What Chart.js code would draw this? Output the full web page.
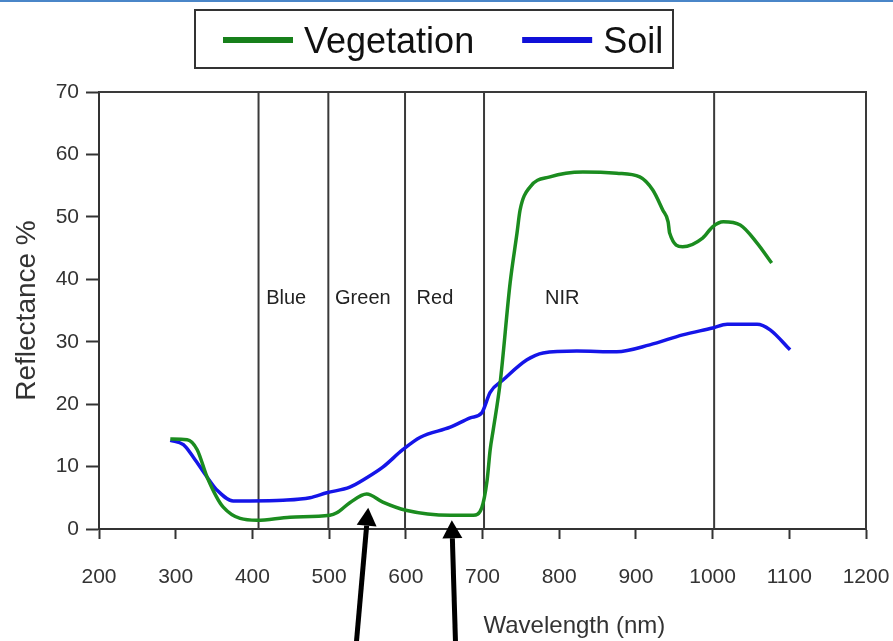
<!DOCTYPE html>
<html>
<head>
<meta charset="utf-8">
<title>Spectral reflectance</title>
<script src="https://cdn.jsdelivr.net/npm/chart.js@4.4.0/dist/chart.umd.min.js"></script>
<style>
  html, body { margin: 0; padding: 0; background: #fff; }
  #wrap { position: relative; width: 893px; height: 641px; }
  #topline { position: absolute; left: 0; top: 0; width: 893px; height: 2px; background: #4a86c8; }
</style>
</head>
<body>
<div id="wrap">
  <canvas id="spectra" width="893" height="641"></canvas>
  <div id="topline"></div>
</div>
<script>
// Vegetation curve: wavelength (nm) / reflectance (%)
const vegWavelength = [293, 315, 328, 341, 362, 406, 449, 501, 510, 527, 549, 570, 600, 658, 688, 699, 706, 710, 714, 723, 736, 745, 749, 762, 788, 831, 875, 905, 922, 935, 942, 944, 961, 987, 1000, 1014, 1036, 1058, 1077];
const vegReflectance = [14.4, 14.3, 12.7, 8.3, 3.5, 1.4, 1.9, 2.2, 2.6, 4.2, 5.6, 4.3, 3.0, 2.2, 2.2, 3.4, 7.8, 12.7, 15.9, 23.4, 39.4, 47.4, 51.1, 54.8, 56.4, 57.2, 57.0, 56.4, 54.3, 51.1, 49.2, 47.4, 45.2, 46.6, 48.4, 49.2, 48.7, 45.8, 42.6];

// Soil curve
const soilWavelength = [293, 310, 323, 341, 354, 375, 397, 440, 475, 497, 527, 549, 570, 596, 619, 658, 684, 699, 710, 727, 758, 779, 823, 875, 918, 961, 1000, 1019, 1058, 1075, 1101];
const soilReflectance = [14.2, 13.5, 11.5, 8.3, 6.2, 4.5, 4.5, 4.6, 5.0, 5.8, 6.7, 8.2, 9.9, 12.7, 14.7, 16.3, 17.8, 18.6, 21.9, 23.9, 27.1, 28.2, 28.5, 28.4, 29.5, 31.1, 32.2, 32.8, 32.8, 31.9, 28.7];

// Spectral band boundaries and names
const bandEdges = [408, 499, 599, 702, 1002];
const bandNames = ["Blue", "Green", "Red", "NIR"];
const bandLabelX = [444, 544, 638, 804];
const bandLabelY = 37;

// Arrows pointing at the green peak and the red absorption
const arrowTipX = [551, 660];
const arrowTipY = [3.4, 1.4];
const arrowTailX = [535, 665];
const arrowTailY = [-19, -19];

const xTicks = [200, 300, 400, 500, 600, 700, 800, 900, 1000, 1100, 1200];
const yTicks = [0, 10, 20, 30, 40, 50, 60, 70];

const FONT = "'Liberation Sans', Arial, sans-serif";
const INK = "#333";

const toPoints = (xs, ys) => xs.map((x, i) => ({ x, y: ys[i] }));

function drawArrow(ctx, x0, y0, x1, y1) {
  const ang = Math.atan2(y1 - y0, x1 - x0);
  const head = 18;
  const half = 10;
  const bx = x1 - head * Math.cos(ang);
  const by = y1 - head * Math.sin(ang);
  ctx.beginPath();
  ctx.moveTo(x0, y0);
  ctx.lineTo(bx, by);
  ctx.stroke();
  ctx.beginPath();
  ctx.moveTo(x1, y1);
  ctx.lineTo(bx + half * Math.sin(ang), by - half * Math.cos(ang));
  ctx.lineTo(bx - half * Math.sin(ang), by + half * Math.cos(ang));
  ctx.closePath();
  ctx.fill();
}

const decorPlugin = {
  id: "decor",
  beforeDatasetsDraw(chart) {
    const { ctx, chartArea: a, scales } = chart;
    ctx.save();
    ctx.strokeStyle = "#3a3a3a";
    ctx.lineWidth = 2;
    bandEdges.forEach((nm) => {
      const x = scales.x.getPixelForValue(nm);
      ctx.beginPath();
      ctx.moveTo(x, a.top);
      ctx.lineTo(x, a.bottom);
      ctx.stroke();
    });
    // top + right frame
    ctx.beginPath();
    ctx.moveTo(a.left, a.top);
    ctx.lineTo(a.right, a.top);
    ctx.lineTo(a.right, a.bottom);
    ctx.stroke();

    ctx.fillStyle = "#222";
    ctx.font = "20px " + FONT;
    ctx.textAlign = "center";
    ctx.textBaseline = "middle";
    bandNames.forEach((name, i) => {
      ctx.fillText(name, scales.x.getPixelForValue(bandLabelX[i]), scales.y.getPixelForValue(bandLabelY));
    });
    ctx.restore();
  },
  afterDraw(chart) {
    const { ctx, chartArea: a, scales } = chart;
    ctx.save();

    // arrows
    ctx.strokeStyle = "#000";
    ctx.fillStyle = "#000";
    ctx.lineWidth = 5;
    arrowTipX.forEach((tx, i) => {
      drawArrow(
        ctx,
        scales.x.getPixelForValue(arrowTailX[i]),
        scales.y.getPixelForValue(arrowTailY[i]),
        scales.x.getPixelForValue(tx),
        scales.y.getPixelForValue(arrowTipY[i])
      );
    });

    // x axis title, starts at the 700 nm mark
    ctx.fillStyle = INK;
    ctx.font = "24px " + FONT;
    ctx.textAlign = "left";
    ctx.textBaseline = "alphabetic";
    ctx.fillText("Wavelength (nm)", scales.x.getPixelForValue(700) + 1, a.bottom + 104);

    // boxed legend
    const box = { left: 195, top: 10, width: 478, height: 58 };
    ctx.strokeStyle = "#333";
    ctx.lineWidth = 2;
    ctx.strokeRect(box.left, box.top, box.width, box.height);
    ctx.font = "36px " + FONT;
    let x = 223;
    chart.data.datasets.forEach((ds) => {
      ctx.strokeStyle = ds.legendColor;
      ctx.lineWidth = 6;
      ctx.beginPath();
      ctx.moveTo(x, 40);
      ctx.lineTo(x + 70, 40);
      ctx.stroke();
      ctx.fillStyle = "#111";
      ctx.fillText(ds.label, x + 81, 53);
      x += 81 + ctx.measureText(ds.label).width + 48;
    });
    ctx.restore();
  },
};

new Chart(document.getElementById("spectra"), {
  type: "line",
  data: {
    datasets: [
      {
        label: "Vegetation",
        data: toPoints(vegWavelength, vegReflectance),
        borderColor: "#1b8c1f",
        legendColor: "#17801b",
        borderWidth: 3.5,
        pointRadius: 0,
        cubicInterpolationMode: "monotone",
      },
      {
        label: "Soil",
        data: toPoints(soilWavelength, soilReflectance),
        borderColor: "#1515e8",
        legendColor: "#1010d8",
        borderWidth: 3.5,
        pointRadius: 0,
        cubicInterpolationMode: "monotone",
      },
    ],
  },
  options: {
    responsive: false,
    animation: false,
    layout: { padding: { top: 92, right: 27, left: 10, bottom: 0 } },
    plugins: {
      legend: { display: false },
      tooltip: { enabled: false },
    },
    scales: {
      x: {
        type: "linear",
        min: xTicks[0],
        max: xTicks[xTicks.length - 1],
        afterBuildTicks: (s) => { s.ticks = xTicks.map((v) => ({ value: v })); },
        afterFit: (s) => {
          s.height = 112;
          s.paddingLeft = 0;
          s.paddingRight = 0;
        },
        grid: { drawOnChartArea: false, tickLength: 10, tickColor: INK, tickWidth: 2 },
        border: { display: true, color: INK, width: 2 },
        ticks: {
          color: INK,
          padding: 26,
          font: { family: FONT, size: 21 },
          callback: (v) => String(v),
        },
      },
      y: {
        min: yTicks[0],
        max: yTicks[yTicks.length - 1],
        afterBuildTicks: (s) => { s.ticks = yTicks.map((v) => ({ value: v })); },
        afterFit: (s) => { s.width = 89; },
        grid: { drawOnChartArea: false, tickLength: 13, tickColor: INK, tickWidth: 2 },
        border: { display: true, color: INK, width: 2 },
        ticks: { color: INK, padding: 7, font: { family: FONT, size: 21 } },
        title: {
          display: true,
          text: "Reflectance %",
          color: INK,
          padding: { top: 0, bottom: 0 },
          font: { family: FONT, size: 28 },
        },
      },
    },
  },
  plugins: [decorPlugin],
});
</script>
</body>
</html>
